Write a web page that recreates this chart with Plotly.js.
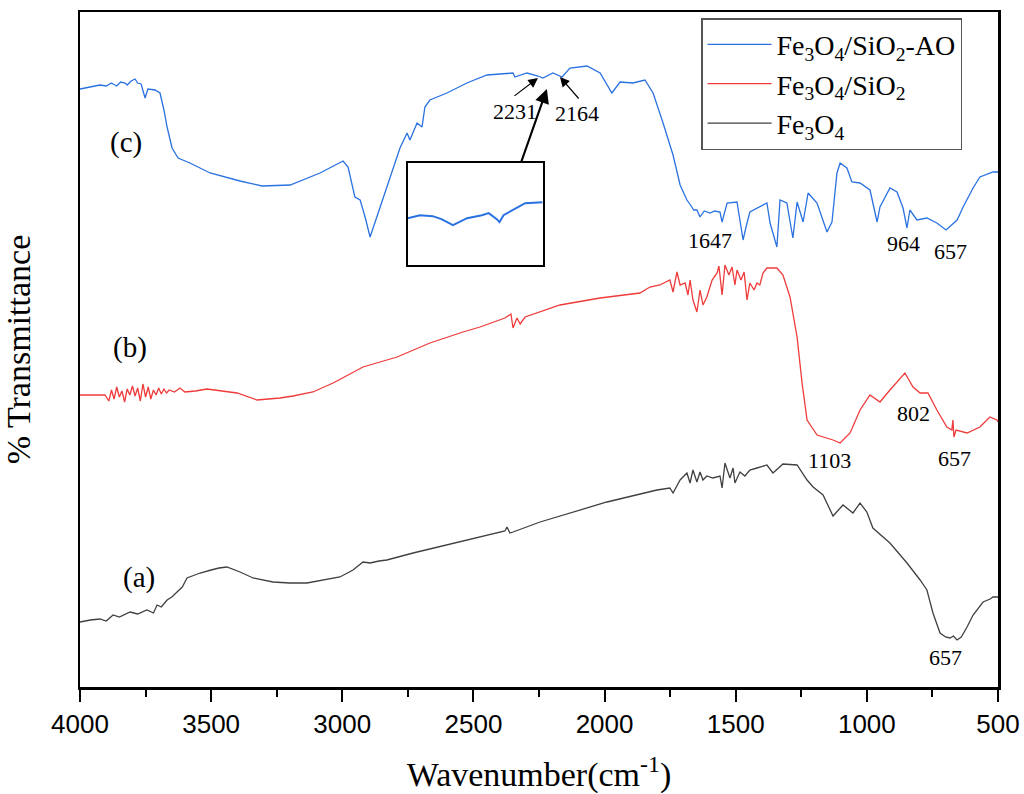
<!DOCTYPE html>
<html>
<head>
<meta charset="utf-8">
<script src="https://cdn.plot.ly/plotly-3.0.1.min.js"></script>
<style>html,body{margin:0;padding:0;background:#fff}#chart{width:1024px;height:794px}</style>
</head>
<body>
<div id="chart"></div>
<script>
// Wavenumber (cm-1) and relative transmittance (arbitrary offset units)
const waveC = [4000,3924,3900,3880,3874,3860,3845,3828,3820,3805,3790,3780,3767,3752,3741,3714,3695,3680,3668,3649,3626,3581,3504,3390,3306,3199,3085,2997,2978,2952,2932,2913,2894,2864,2830,2780,2753,2742,2715,2696,2685,2666,2601,2525,2448,2349,2342,2296,2254,2235,2197,2162,2132,2067,2017,1972,1941,1892,1846,1815,1777,1739,1712,1686,1670,1660,1648,1636,1620,1598,1580,1560,1552,1533,1495,1472,1457,1446,1381,1369,1343,1331,1305,1282,1266,1243,1224,1190,1152,1133,1114,1102,1076,1057,1026,988,961,950,912,885,862,847,836,809,771,733,698,656,633,595,569,540,519,500];
const transC = [598,602,601,604,603,601,605,604,602,606,608,604,603,589,598,597,594,577,560,539,529,524,514,506,501,502,514,526,520,490,487,470,450,474,500,539,554,547,564,560,580,587,594,604,612,614,610,614,611,609,614,610,619,621,614,594,605,604,607,594,564,532,502,487,481,477,477,470,476,474,476,475,465,484,485,447,464,475,484,464,440,487,484,449,485,465,494,484,455,465,514,524,519,505,504,497,465,480,499,495,479,459,477,467,469,464,457,467,480,499,510,513,515,515];

const waveB = [4000,3924,3905,3890,3880,3870,3860,3850,3840,3830,3820,3810,3800,3790,3780,3770,3760,3750,3740,3730,3720,3710,3700,3690,3680,3670,3660,3640,3619,3600,3560,3516,3455,3401,3325,3237,3188,3112,3035,2959,2921,2791,2666,2540,2475,2380,2357,2349,2334,2322,2303,2170,2017,1865,1827,1789,1751,1739,1724,1712,1693,1682,1674,1663,1648,1636,1625,1610,1590,1571,1564,1552,1541,1526,1514,1503,1495,1480,1468,1457,1446,1430,1419,1408,1396,1381,1343,1320,1293,1266,1247,1228,1190,1129,1102,1064,1026,988,950,912,855,824,797,767,733,695,676,672,668,660,618,569,531,504,500];
const transB = [292,292,292,286,297,288,300,290,296,285,298,292,301,291,299,286,303,290,300,288,297,292,299,293,298,294,297,295,299,295,296,298,296,294,287,289,291,295,304,315,320,330,344,355,360,369,373,359,369,363,370,382,389,394,400,402,407,395,415,402,404,392,407,387,375,397,382,390,407,414,421,392,422,412,420,402,417,407,415,387,404,397,404,402,414,419,419,412,390,350,304,267,252,247,244,254,277,292,285,297,314,300,294,294,277,260,257,267,250,257,254,260,270,267,265];

const waveA = [4000,3960,3924,3900,3874,3850,3809,3780,3745,3720,3706,3690,3668,3650,3630,3610,3592,3542,3500,3470,3440,3390,3340,3264,3200,3135,3009,2959,2921,2894,2860,2830,2730,2601,2475,2380,2372,2361,2349,2246,1991,1800,1751,1739,1712,1686,1674,1663,1648,1636,1625,1610,1587,1560,1552,1541,1522,1510,1503,1484,1465,1446,1419,1381,1358,1320,1266,1228,1205,1167,1129,1091,1053,1026,1000,977,912,847,797,771,748,721,700,683,670,656,640,618,595,557,530,519,500];
const transA = [65,67,68,66,72,70,75,73,77,74,82,80,87,90,95,100,109,114,117,119,120,115,109,105,104,104,110,117,125,124,126,127,134,142,150,156,160,154,155,165,185,197,199,194,207,214,204,217,205,215,207,211,209,211,199,224,209,219,204,215,211,217,219,222,214,223,222,207,200,192,171,182,174,184,175,159,144,124,107,97,74,54,50,49,51,47,50,60,72,85,88,90,90];

// Inset: zoom on 2300-2100 cm-1 of curve (c)
const waveInset = [2300,2282,2263,2250,2233,2212,2190,2180,2168,2164,2158,2140,2126,2100];
const transInset = [47,50,49,46,40,47,50,52,46,43,50,57,62,63];

const names = ['Fe<sub>3</sub>O<sub>4</sub>/SiO<sub>2</sub>-AO','Fe<sub>3</sub>O<sub>4</sub>/SiO<sub>2</sub>','Fe<sub>3</sub>O<sub>4</sub>'];
const colors = ['#2a72e0','#ef3b3b','#404040'];

const serif = 'Liberation Serif, Times New Roman, serif';
const sans = 'Liberation Sans, Arial, sans-serif';

const traces = [
  {x: waveC, y: transC, name: names[0], type:'scatter', mode:'lines', line:{color:colors[0], width:1.3}},
  {x: waveB, y: transB, name: names[1], type:'scatter', mode:'lines', line:{color:colors[1], width:1.3}},
  {x: waveA, y: transA, name: names[2], type:'scatter', mode:'lines', line:{color:colors[2], width:1.3}},
  {x: waveInset, y: transInset, type:'scatter', mode:'lines', showlegend:false, xaxis:'x2', yaxis:'y2', line:{color:colors[0], width:2}}
];

function lab(text, x, y, size){
  return {text:text, x:x, y:y, xref:'x', yref:'y', showarrow:false, font:{family:serif, size:size, color:'#000'}};
}
function arr(x, y, ax, ay, w, s){
  return {text:'', x:x, y:y, xref:'x', yref:'y', ax:ax, ay:ay, showarrow:true, arrowhead:2, arrowsize:s, arrowwidth:w, arrowcolor:'#000'};
}

const annotations = [
  lab('(c)', 3825, 545, 29), lab('(b)', 3809, 340, 29), lab('(a)', 3775, 110, 29),
  lab('1647', 1598, 447, 22), lab('964', 862, 444, 22), lab('657', 683, 436, 22),
  lab('1103', 1141, 227, 22), lab('802', 824, 274, 22), lab('657', 664, 229, 22),
  lab('657', 702, 30, 22),
  lab('2231', 2342, 576, 22), lab('2164', 2105, 574, 22),
  arr(2254, 609, -25, 19, 1.2, 1.6),
  arr(2170, 610, 20, 23, 1.2, 1.6),
  arr(2220, 598, -26, 74, 2.2, 1.3)
];

const layout = {
  width:1024, height:794,
  margin:{l:80, r:26, t:12, b:107},
  paper_bgcolor:'#fff', plot_bgcolor:'#fff',
  showlegend:true,
  legend:{x:0.6765, y:0.991, xanchor:'left', yanchor:'top', bgcolor:'#fff', bordercolor:'#555', borderwidth:1.5,
          font:{family:serif, size:28, color:'#000'}, itemwidth:64, tracegroupgap:0},
  xaxis:{range:[4000,500], tickvals:[4000,3500,3000,2500,2000,1500,1000,500], ticks:'outside', ticklen:12, tickwidth:2, tickcolor:'#000',
         minor:{dtick:250, ticks:'outside', ticklen:7, tickwidth:2, tickcolor:'#000'},
         showline:true, linecolor:'#000', linewidth:2.5, mirror:true, showgrid:false, zeroline:false,
         tickfont:{family:sans, size:26, color:'#000'},
         title:{text:'Wavenumber(cm<sup>-1</sup>)', font:{family:serif, size:34, color:'#000'}, standoff:26}},
  yaxis:{range:[0,675], showticklabels:false, ticks:'', showline:true, linecolor:'#000', linewidth:2.5, mirror:true, showgrid:false, zeroline:false,
         title:{text:'% Transmittance', font:{family:serif, size:34, color:'#000'}, standoff:38}},
  xaxis2:{domain:[0.357,0.504], anchor:'y2', range:[2300,2100], showticklabels:false, ticks:'', showline:true, mirror:true, linecolor:'#000', linewidth:2, showgrid:false, zeroline:false},
  yaxis2:{domain:[0.625,0.776], anchor:'x2', range:[0,102], showticklabels:false, ticks:'', showline:true, mirror:true, linecolor:'#000', linewidth:2, showgrid:false, zeroline:false},
  annotations:annotations
};

Plotly.newPlot('chart', traces, layout, {displayModeBar:false, staticPlot:true});
</script>
</body>
</html>
